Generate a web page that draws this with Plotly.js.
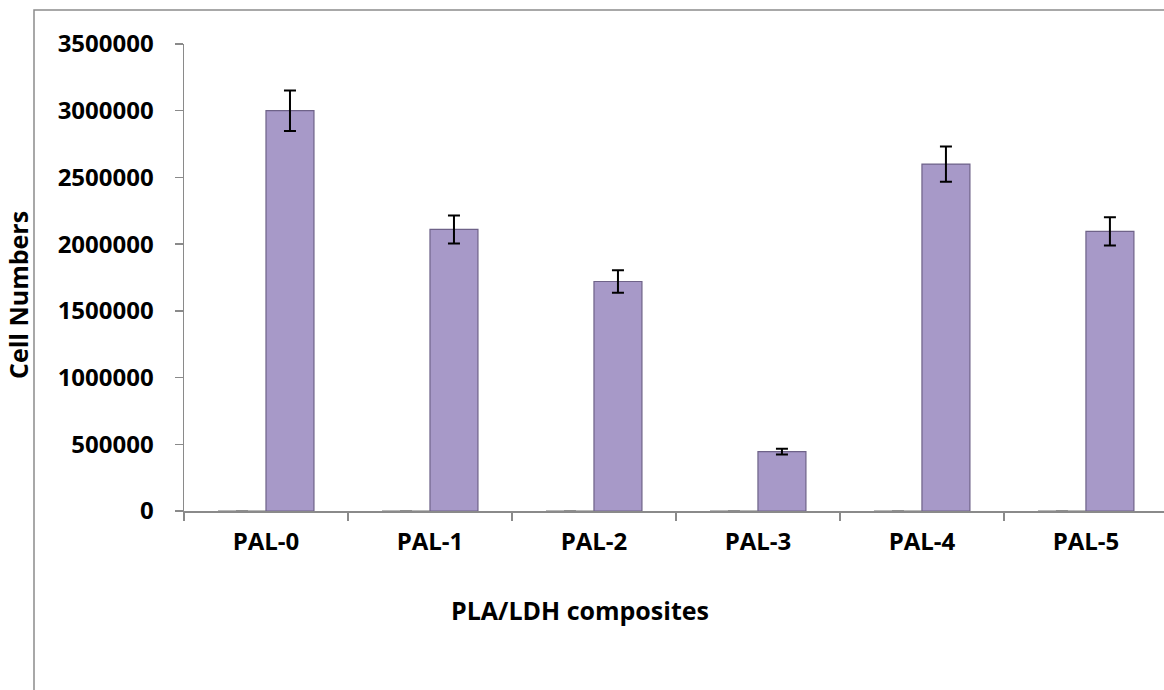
<!DOCTYPE html>
<html>
<head>
<meta charset="utf-8">
<script src="https://cdn.plot.ly/plotly-3.0.1.min.js"></script>
<style>html,body{margin:0;padding:0;background:#fff;overflow:hidden}#chart{width:1164px;height:690px}</style>
</head>
<body>
<div id="chart"></div>
<script>
const categories = ["PAL-0", "PAL-1", "PAL-2", "PAL-3", "PAL-4", "PAL-5"];
const baselineValues = [0, 0, 0, 0, 0, 0];
const baselineErrors = [0, 0, 0, 0, 0, 0];
const cellNumbers = [3000000, 2110000, 1720000, 445000, 2600000, 2095000];
const cellErrors = [152000, 105000, 85000, 22000, 132000, 106000];
const yTickValues = [0, 500000, 1000000, 1500000, 2000000, 2500000, 3000000, 3500000];
const xTitle = "PLA/LDH composites";
const yTitle = "Cell Numbers";

const W = 1164, H = 690;
const L = 184, T = 44, B = 179, R = 0;
const pw = W - L - R, ph = H - T - B;
const px = v => (v - L) / pw;
const py = v => (H - B - v) / ph;

const tickFont = {family: "'Open Sans', Lato, sans-serif", size: 24, color: "#000", weight: 700};
const titleFont = {family: "'Open Sans', Lato, sans-serif", size: 25, color: "#000", weight: 700};

const traces = [
  {
    type: "bar", x: categories, y: baselineValues, name: "baseline",
    marker: {color: "#9a9a9a", line: {color: "#a0a0a0", width: 1}},
    error_y: {type: "data", array: baselineErrors, visible: true, color: "#808080", thickness: 1.5, width: 6},
    hoverinfo: "skip"
  },
  {
    type: "bar", x: categories, y: cellNumbers, name: "Cell Numbers",
    marker: {color: "#A799C8", line: {color: "#6E6288", width: 1.2}},
    error_y: {type: "data", array: cellErrors, visible: true, color: "#000", thickness: 2, width: 6},
    hoverinfo: "skip"
  }
];

const layout = {
  width: W, height: H,
  margin: {l: L, r: R, t: T, b: B, pad: 0},
  paper_bgcolor: "#fff", plot_bgcolor: "#fff",
  showlegend: false,
  barmode: "group", bargap: 0.415, bargroupgap: 0,
  xaxis: {
    type: "category", range: [-0.5, 5.476],
    showline: true, linecolor: "#8a8a8a", linewidth: 1.5,
    ticks: "outside", tickson: "boundaries", ticklen: 8, tickcolor: "#8a8a8a", tickwidth: 1.5,
    tickfont: tickFont, ticklabelstandoff: 9,
    showgrid: false, zeroline: false, fixedrange: true
  },
  yaxis: {
    range: [0, 3500000],
    tickvals: yTickValues, tickformat: "d",
    showline: true, linecolor: "#8a8a8a", linewidth: 1.5,
    ticks: "outside", ticklen: 8, tickcolor: "#8a8a8a", tickwidth: 1.5,
    tickfont: tickFont, ticklabelstandoff: 16,
    showgrid: false, zeroline: false, fixedrange: true
  },
  shapes: [
    {type: "rect", xref: "paper", yref: "paper",
     x0: px(34), x1: px(1200), y0: py(720), y1: py(10),
     line: {color: "#8c8c8c", width: 1.5}, fillcolor: "rgba(0,0,0,0)", layer: "below"}
  ],
  annotations: [
    {text: xTitle, xref: "paper", yref: "paper", x: px(580), y: py(610),
     xanchor: "center", yanchor: "middle", showarrow: false, font: titleFont},
    {text: yTitle, xref: "paper", yref: "paper", x: px(18), y: py(295), textangle: -90,
     xanchor: "center", yanchor: "middle", showarrow: false, font: titleFont}
  ]
};

Plotly.newPlot("chart", traces, layout, {staticPlot: true, displayModeBar: false});
</script>
</body>
</html>
